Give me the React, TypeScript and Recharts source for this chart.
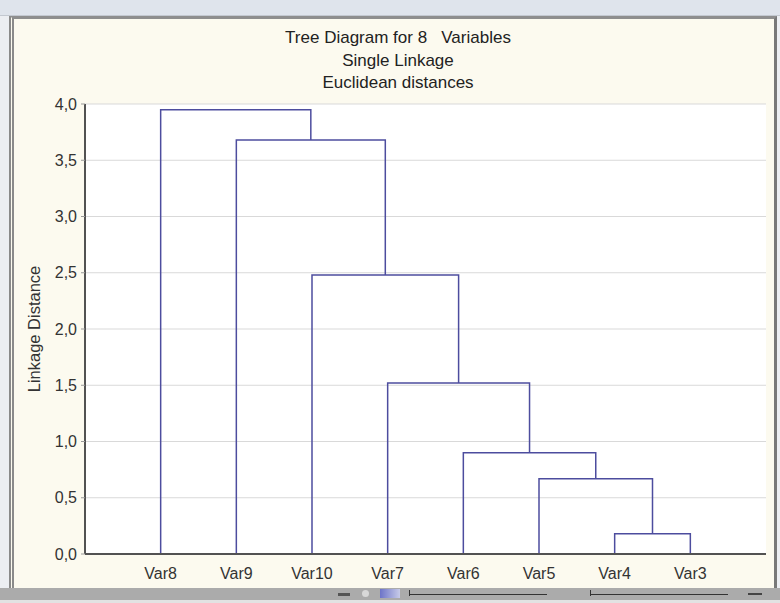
import { CartesianGrid, Label, Line, LineChart, XAxis, YAxis } from "recharts";

// leaves in the order they stand on the x axis
const leaves = ["Var8", "Var9", "Var10", "Var7", "Var6", "Var5", "Var4", "Var3"];
// merges in order; ids 0-7 are leaves, 8+ the clusters made by earlier merges
const mergeLeft = [6, 5, 4, 3, 2, 1, 0];
const mergeRight = [7, 8, 9, 10, 11, 12, 13];
const mergeHeight = [0.18, 0.67, 0.9, 1.52, 2.48, 3.68, 3.95];
const yTicks = [0, 0.5, 1, 1.5, 2, 2.5, 3, 3.5, 4];
const xTicks = leaves.map((_, i) => i + 1);
const titleLines = ["Tree Diagram for 8   Variables", "Single Linkage", "Euclidean distances"];

const FONT = "'Liberation Sans', Arial, sans-serif";
const LINK = "#4d4d9e";
const FRAME = "#525252";

function buildLinks() {
  const pos: number[] = leaves.map((_, i) => i + 1);
  const h: number[] = leaves.map(() => 0);
  return mergeHeight.map((H, k) => {
    const l = mergeLeft[k];
    const r = mergeRight[k];
    pos.push((pos[l] + pos[r]) / 2);
    h.push(H);
    return [
      { x: pos[l], y: h[l] },
      { x: pos[l], y: H },
      { x: pos[r], y: H },
      { x: pos[r], y: h[r] },
    ];
  });
}

const links = buildLinks();
const fmt = (v: number) => v.toFixed(1).replace(".", ",");

export default function App() {
  return (
    <div style={{ position: "absolute", left: 0, top: 0, width: 780, height: 603, background: "#eceef2", overflow: "hidden" }}>
      <div style={{ position: "absolute", left: 0, top: 0, width: 780, height: 15, background: "#dfe4ec", borderBottom: "1px solid #c3c8d0" }} />
      <div
        style={{
          position: "absolute",
          left: 9,
          top: 16,
          width: 768,
          height: 572,
          boxSizing: "border-box",
          background: "#fcfaef",
          borderLeft: "5px double #8a8a8a",
          borderTop: "3px solid #8e8e8e",
          borderRight: "3px solid #787878",
        }}
      />
      <div style={{ position: "absolute", left: 0, top: 588, width: 780, height: 12, background: "#ababab" }} />
      <div style={{ position: "absolute", left: 0, top: 600, width: 780, height: 3, background: "#e2e2e2" }} />
      <div style={{ position: "absolute", left: 338, top: 593, width: 12, height: 3, background: "#555" }} />
      <div style={{ position: "absolute", left: 362, top: 590, width: 7, height: 7, borderRadius: 4, background: "#d8d8d8" }} />
      <div style={{ position: "absolute", left: 380, top: 589, width: 20, height: 9, background: "linear-gradient(90deg,#6d74c8,#c7cbe8)" }} />
      <div style={{ position: "absolute", left: 409, top: 594, width: 138, height: 1, background: "#333" }} />
      <div style={{ position: "absolute", left: 409, top: 590, width: 1, height: 6, background: "#333" }} />
      <div style={{ position: "absolute", left: 590, top: 594, width: 138, height: 1, background: "#333" }} />
      <div style={{ position: "absolute", left: 590, top: 590, width: 1, height: 6, background: "#333" }} />
      <div style={{ position: "absolute", left: 748, top: 593, width: 14, height: 2, background: "#444" }} />

      <div style={{ position: "absolute", left: 198, top: 27, width: 400, textAlign: "center", fontFamily: FONT, fontSize: 17, lineHeight: "22.5px", color: "#222", whiteSpace: "pre" }}>
        {titleLines.map((t) => (
          <div key={t}>{t}</div>
        ))}
      </div>

      <div style={{ position: "absolute", left: 0, top: 0 }}>
        <LineChart width={780} height={603} margin={{ top: 104, right: 14, bottom: 19, left: 0 }} style={{ fontFamily: FONT }}>
          <CartesianGrid vertical={false} stroke="#d9d9d9" fill="#ffffff" />
          <XAxis
            dataKey="x"
            type="number"
            domain={[0, 9]}
            ticks={xTicks}
            tickFormatter={(v: number) => leaves[v - 1]}
            height={30}
            tickLine={false}
            tickMargin={8}
            axisLine={{ stroke: FRAME, strokeWidth: 2 }}
            tick={{ fill: "#333", fontSize: 16 }}
          />
          <XAxis
            xAxisId="top"
            orientation="top"
            type="number"
            domain={[0, 9]}
            ticks={xTicks}
            height={0}
            mirror
            tick={false}
            tickSize={4}
            axisLine={{ stroke: FRAME, strokeWidth: 2 }}
            tickLine={{ stroke: FRAME }}
          />
          <YAxis
            type="number"
            domain={[0, 4]}
            ticks={yTicks}
            width={85}
            tickFormatter={fmt}
            tickSize={4}
            tickMargin={4}
            axisLine={{ stroke: FRAME, strokeWidth: 2 }}
            tickLine={{ stroke: "#999" }}
            tick={{ fill: "#333", fontSize: 16 }}
          >
            <Label value="Linkage Distance" angle={-90} position="insideLeft" offset={34} style={{ textAnchor: "middle", fill: "#333", fontSize: 16.5 }} />
          </YAxis>
          <YAxis
            yAxisId="right"
            orientation="right"
            type="number"
            domain={[0, 4]}
            ticks={yTicks}
            width={0}
            mirror
            tick={false}
            tickSize={4}
            axisLine={{ stroke: FRAME, strokeWidth: 2 }}
            tickLine={{ stroke: FRAME }}
          />
          {links.map((d, i) => (
            <Line
              key={i}
              data={d}
              dataKey="y"
              type="linear"
              stroke={LINK}
              strokeWidth={1.5}
              dot={false}
              activeDot={false}
              isAnimationActive={false}
            />
          ))}
        </LineChart>
      </div>
    </div>
  );
}
